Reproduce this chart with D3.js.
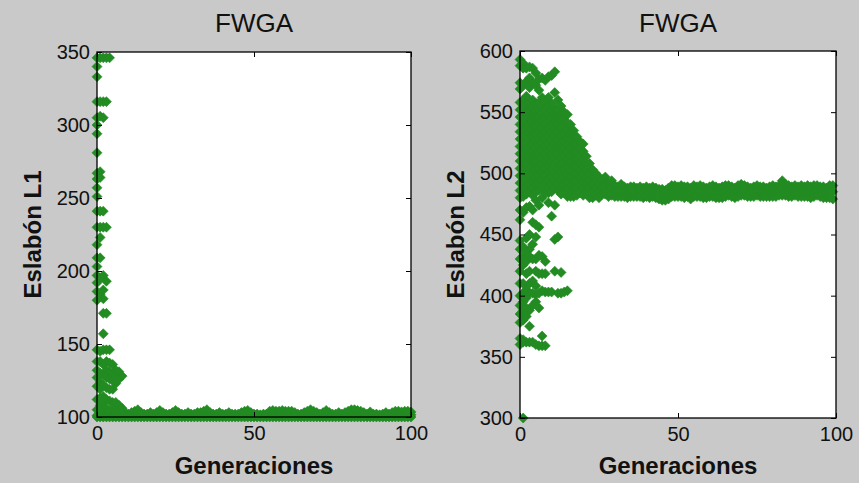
<!DOCTYPE html>
<html>
<head>
<meta charset="utf-8">
<script src="https://cdn.jsdelivr.net/npm/d3@7"></script>
<style>
  html, body { margin: 0; padding: 0; background: #c9c9c9; }
  svg { display: block; }
  text { font-family: "Liberation Sans", Arial, Helvetica, sans-serif; fill: #111; }
</style>
</head>
<body>
<svg id="chart" width="859" height="483"></svg>
<script>
// Population values per generation (index = generation 0..100)
const l1Population = [
  [346, 340, 333, 316, 305, 300, 294, 281, 267, 263, 257, 251, 241, 230, 218, 209, 203, 197, 192, 186, 180, 146, 138, 132, 127, 121, 112, 105, 101, 100],
  [346, 316, 306, 268, 264, 241, 230, 223, 209, 195, 184, 145, 138, 130, 124, 119, 113, 108, 103, 100],
  [346, 316, 305, 241, 230, 197, 187, 181, 171, 157, 146, 136, 129, 122, 114, 110, 104, 100],
  [346, 316, 230, 193, 171, 146, 138, 132, 127, 120, 112, 106, 101, 100],
  [346, 146, 137, 131, 126, 119, 111, 104, 100],
  [136, 130, 125, 119, 110, 106, 101, 100],
  [132, 128, 123, 110, 106, 102, 100],
  [131, 126, 108, 104, 100],
  [128, 106, 103, 100],
  [100, 101.5, 103], [100, 101, 102], [100, 101.5, 103], [100, 102, 104], [100, 102, 105],
  [100, 101.5, 103], [100, 101, 102], [100, 101, 102], [100, 101.5, 103], [100, 101, 102],
  [100, 101.5, 103], [100, 102, 104.5], [100, 101.5, 103], [100, 101, 102], [100, 101, 102],
  [100, 101.5, 103], [100, 102, 104.5], [100, 101.5, 103], [100, 101, 102], [100, 101, 102],
  [100, 101.5, 103], [100, 101, 102], [100, 101, 102], [100, 101.5, 103], [100, 101.5, 103],
  [100, 102, 104], [100, 102, 105], [100, 101.5, 103], [100, 101, 102], [100, 101, 102],
  [100, 101.5, 103], [100, 101, 102], [100, 101, 102], [100, 101.5, 103], [100, 101, 102],
  [100, 101, 102], [100, 101, 102], [100, 101.5, 103], [100, 102, 104], [100, 102, 104.5],
  [100, 101.5, 103], [100, 101, 102], [100, 101, 102], [100, 101, 101.5], [100, 101, 102],
  [100, 101, 102], [100, 102, 104], [100, 102, 104.5], [100, 102, 104], [100, 102, 104],
  [100, 102, 104.5], [100, 102, 104], [100, 102, 104], [100, 102, 104], [100, 101.5, 103],
  [100, 101, 102], [100, 101, 102], [100, 101.5, 103], [100, 102, 104], [100, 102, 105],
  [100, 102, 104], [100, 101.5, 103], [100, 101, 102], [100, 101.5, 103], [100, 102, 104.5],
  [100, 101.5, 103], [100, 101, 102], [100, 101, 102], [100, 101.5, 103], [100, 101, 102],
  [100, 101.5, 103], [100, 102, 104], [100, 102, 105], [100, 102, 105], [100, 102, 104.5],
  [100, 102, 104], [100, 101.5, 103], [100, 101, 102], [100, 101.5, 103.5], [100, 101, 102],
  [100, 101, 102], [100, 101, 101.5], [100, 101, 102], [100, 101.5, 103], [100, 101, 102],
  [100, 101.5, 103], [100, 102, 104], [100, 102, 104], [100, 101.5, 103.5], [100, 102, 104],
  [100, 102, 104], [100, 101.5, 103.5]
];

const l2Population = [
  [593, 588, 574, 569, 558, 552, 546, 540, 534, 528, 522, 516, 510, 504, 498, 492, 486, 480, 470, 462, 445, 438, 430, 420, 410, 400, 392, 385, 378, 365, 360],
  [590, 586, 572, 560, 553, 547, 541, 535, 529, 523, 517, 511, 505, 499, 493, 487, 481, 468, 440, 432, 425, 410, 402, 395, 388, 380, 364, 362, 300],
  [586, 575, 563, 556, 549, 543, 537, 531, 525, 519, 513, 507, 501, 495, 489, 483, 472, 447, 435, 428, 418, 405, 398, 390, 383, 362],
  [587, 578, 570, 558, 551, 545, 539, 533, 527, 521, 515, 509, 503, 497, 491, 485, 473, 450, 438, 432, 420, 410, 402, 388, 375, 362],
  [586, 574, 560, 554, 548, 542, 536, 530, 524, 518, 512, 506, 500, 494, 488, 482, 470, 460, 442, 430, 412, 402, 392, 362],
  [582, 572, 557, 551, 545, 539, 533, 527, 521, 515, 509, 503, 497, 491, 485, 478, 458, 448, 430, 420, 408, 401, 395, 360],
  [577, 568, 558, 552, 546, 540, 534, 528, 522, 516, 510, 504, 498, 492, 486, 474, 456, 433, 418, 402, 390, 359],
  [578, 562, 555, 549, 543, 537, 531, 525, 519, 513, 507, 501, 495, 489, 480, 432, 418, 404, 367, 359],
  [576, 558, 552, 546, 540, 534, 528, 522, 516, 510, 504, 498, 492, 484, 428, 418, 403, 359],
  [579, 562, 555, 549, 543, 537, 531, 525, 519, 513, 507, 501, 495, 489, 484, 476, 403],
  [580, 557, 551, 545, 539, 533, 527, 521, 515, 509, 503, 497, 491, 485, 465, 403],
  [583, 566, 554, 548, 542, 536, 530, 524, 518, 512, 506, 500, 494, 488, 474, 446, 420],
  [560, 552, 546, 540, 534, 528, 522, 516, 510, 504, 498, 492, 486, 448, 402],
  [555, 549, 543, 537, 531, 525, 519, 513, 507, 501, 495, 489, 483, 419, 402],
  [550, 544, 538, 532, 526, 520, 514, 508, 502, 496, 490, 484, 403],
  [548, 541, 535, 529, 523, 517, 511, 505, 499, 493, 487, 481, 404],
  [540, 534, 528, 522, 516, 510, 504, 498, 492, 486, 481],
  [535, 529, 523, 517, 511, 505, 499, 493, 487, 481],
  [530, 524, 518, 512, 506, 500, 494, 488, 482],
  [526, 520, 514, 508, 502, 496, 490, 484],
  [524, 518, 512, 506, 500, 494, 488, 482],
  [514, 508, 502, 496, 490, 484],
  [508, 502, 496, 490, 484, 480],
  [503, 497, 491, 485, 480],
  [500, 494, 488, 482],
  [497, 491, 485, 480],
  [495, 489, 483],
  [497, 490, 483],
  [492, 486, 481],
  [494, 488, 482],
  [490, 485, 481], [489, 485, 481], [491, 486, 481], [489, 485, 481], [488, 484, 480],
  [489, 485, 481], [489, 485, 481], [488, 484, 481], [489, 485, 481], [488, 484, 480],
  [489, 485, 481], [488, 484, 480], [489, 485, 481], [488, 484, 480], [487, 483, 479],
  [487, 482, 478], [486, 482, 478], [488, 483, 479], [490, 485, 481], [490, 485, 481],
  [489, 485, 481], [490, 485, 481], [489, 484, 480], [489, 485, 481], [488, 483, 479],
  [490, 485, 481], [489, 485, 481], [490, 485, 481], [489, 484, 480], [488, 484, 480],
  [489, 485, 481], [490, 485, 481], [489, 484, 480], [488, 484, 480], [489, 484, 480],
  [490, 485, 481], [490, 486, 482], [489, 485, 481], [488, 484, 480], [490, 485, 481],
  [491, 486, 482], [490, 486, 482], [489, 485, 481], [488, 484, 481], [489, 485, 481],
  [490, 486, 482], [489, 485, 481], [489, 485, 481], [488, 484, 481], [489, 485, 481],
  [490, 485, 481], [489, 485, 481], [490, 486, 482], [494, 488, 482], [491, 486, 482],
  [490, 485, 481], [489, 485, 481], [490, 486, 482], [489, 485, 481], [490, 485, 481],
  [489, 485, 481], [490, 485, 481], [489, 484, 480], [490, 485, 481], [490, 486, 482],
  [489, 485, 481], [489, 484, 480], [488, 484, 480], [490, 485, 480], [490, 485, 479]
];

const xTicks = [0, 50, 100];
const l1Ticks = [100, 150, 200, 250, 300, 350];
const l2Ticks = [300, 350, 400, 450, 500, 550, 600];

const panels = [
  { title: "FWGA", yLabel: "Eslabón L1", xLabel: "Generaciones", data: l1Population,
    yDomain: [100, 350], yTicks: l1Ticks, box: { left: 97, right: 411, top: 52, bottom: 417 } },
  { title: "FWGA", yLabel: "Eslabón L2", xLabel: "Generaciones", data: l2Population,
    yDomain: [300, 600], yTicks: l2Ticks, box: { left: 520, right: 836, top: 51, bottom: 418 } }
];

const markerColor = "#228b22";
const svg = d3.select("#chart");

// filled diamond marker (square rotated 45°)
const diamond = {
  draw(ctx, size) {
    const r = Math.sqrt(size / 2);
    ctx.moveTo(0, -r); ctx.lineTo(r, 0); ctx.lineTo(0, r); ctx.lineTo(-r, 0); ctx.closePath();
  }
};
const markerPath = d3.symbol().type(diamond).size(2 * 5 * 5)();

panels.forEach(p => {
  const b = p.box;
  const x = d3.scaleLinear().domain([0, 100]).range([b.left, b.right]);
  const y = d3.scaleLinear().domain(p.yDomain).range([b.bottom, b.top]);

  svg.append("rect")
    .attr("x", b.left).attr("y", b.top)
    .attr("width", b.right - b.left).attr("height", b.bottom - b.top)
    .attr("fill", "#fff");

  const points = p.data.flatMap((vals, g) => vals.map(v => ({ g, v })));

  svg.append("g").selectAll("path")
    .data(points)
    .join("path")
    .attr("d", markerPath)
    .attr("transform", d => `translate(${x(d.g)},${y(d.v)})`)
    .attr("fill", markerColor)
    .attr("stroke", markerColor)
    .attr("stroke-width", 0.6);

  const style = g => {
    g.select(".domain").remove();
    g.selectAll(".tick line").attr("stroke", "#000").attr("stroke-width", 1);
    g.selectAll(".tick text").attr("font-size", 20).attr("fill", "#111")
      .attr("font-family", "'Liberation Sans', Arial, sans-serif");
  };

  svg.append("g").attr("transform", `translate(0,${b.bottom})`)
    .call(d3.axisBottom(x).tickValues(xTicks).tickSize(-5).tickPadding(9))
    .call(style);
  svg.append("g").attr("transform", `translate(0,${b.top})`)
    .call(d3.axisTop(x).tickValues(xTicks).tickSize(-5).tickFormat(""))
    .call(style);
  svg.append("g").attr("transform", `translate(${b.left},0)`)
    .call(d3.axisLeft(y).tickValues(p.yTicks).tickSize(-5).tickPadding(7))
    .call(style);
  svg.append("g").attr("transform", `translate(${b.right},0)`)
    .call(d3.axisRight(y).tickValues(p.yTicks).tickSize(-5).tickFormat(""))
    .call(style);

  svg.append("rect")
    .attr("x", b.left).attr("y", b.top)
    .attr("width", b.right - b.left).attr("height", b.bottom - b.top)
    .attr("fill", "none").attr("stroke", "#000").attr("stroke-width", 1.3);

  const cx = (b.left + b.right) / 2;
  svg.append("text")
    .attr("x", cx).attr("y", 32)
    .attr("text-anchor", "middle")
    .attr("font-size", 26)
    .text(p.title);

  svg.append("text")
    .attr("x", cx).attr("y", 474)
    .attr("text-anchor", "middle")
    .attr("font-size", 24).attr("font-weight", "bold")
    .text(p.xLabel);

  svg.append("text")
    .attr("transform", `translate(${b.left - 56},${(b.top + b.bottom) / 2}) rotate(-90)`)
    .attr("text-anchor", "middle")
    .attr("font-size", 24).attr("font-weight", "bold")
    .text(p.yLabel);
});
</script>
</body>
</html>
